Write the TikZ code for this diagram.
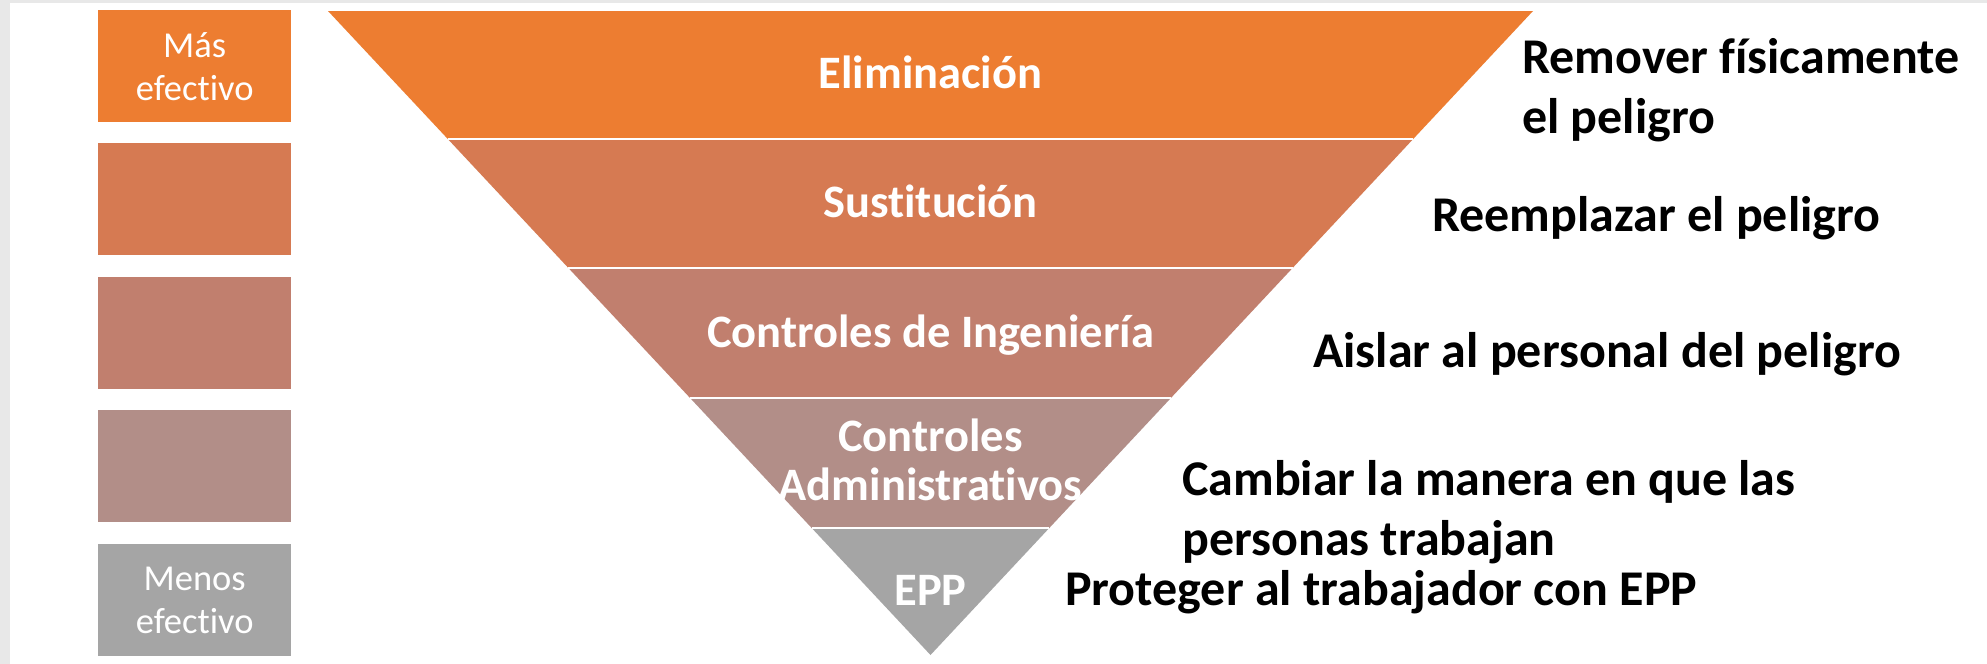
\documentclass[tikz,border=0pt]{standalone}
\usepackage{fontspec}
\setmainfont{Carlito}[Ligatures=NoCommon]
\definecolor{cA}{RGB}{237,125,49}
\definecolor{cB}{RGB}{214,122,82}
\definecolor{cC}{RGB}{193,127,110}
\definecolor{cD}{RGB}{178,142,136}
\definecolor{cE}{RGB}{165,165,165}
\definecolor{edge}{RGB}{232,232,232}
\begin{document}
\begin{tikzpicture}[x=1pt,y=-1pt,
  lbox/.style={anchor=north west, minimum width=193pt, minimum height=112pt, inner sep=0pt,
    text=white, align=center, font=\fontsize{36.5}{43}\selectfont},
  blabel/.style={anchor=base, inner sep=0pt, text=white, align=center,
    font=\fontsize{46.5}{49}\selectfont\bfseries},
  rlabel/.style={anchor=base west, inner sep=0pt, text=black, align=left,
    font=\fontsize{50}{59.5}\selectfont\bfseries},
  divider/.style={draw=white, line width=2.5pt}]
\useasboundingbox (0,0) rectangle (1987,664);
\fill[white] (0,0) rectangle (1987,664);
\fill[edge] (0,0) rectangle (10,664);
\fill[edge] (0,0) rectangle (1987,3);
% left scale boxes
\node[lbox, fill=cA] (b1) at (98,10) {Más\\efectivo};
\node[lbox, fill=cB] (b2) at (98,143) {};
\node[lbox, fill=cC] (b3) at (98,277) {};
\node[lbox, fill=cD] (b4) at (98,410) {};
\node[lbox, fill=cE] (b5) at (98,544) {Menos\\efectivo};
% inverted pyramid
\fill[cA] (328,11) -- (1533,11) -- (1413.2,139) -- (447.8,139) -- cycle;
\fill[cB] (447.8,139) -- (1413.2,139) -- (1292.6,268) -- (568.4,268) -- cycle;
\fill[cC] (568.4,268) -- (1292.6,268) -- (1170.9,398) -- (690.1,398) -- cycle;
\fill[cD] (690.1,398) -- (1170.9,398) -- (1049.3,528) -- (811.7,528) -- cycle;
\fill[cE] (811.7,528) -- (1049.3,528) -- (930.5,655) -- cycle;
\draw[divider] (447.8,139) -- (1413.2,139);
\draw[divider] (568.4,268) -- (1292.6,268);
\draw[divider] (690.1,398) -- (1170.9,398);
\draw[divider] (811.7,528) -- (1049.3,528);
% band labels
\node[blabel] (l1) at (930.5,88) {Eliminación};
\node[blabel] (l2) at (930.5,217) {Sustitución};
\node[blabel] (l3) at (930.5,347) {Controles de Ingeniería};
\node[blabel] (l4) at (930.5,500) {Controles\\Administrativos};
\node[blabel] (l5) at (930.5,605) {EPP};
% descriptions
\node[rlabel] (r1) at (1522,133) {Remover físicamente\\el peligro};
\node[rlabel] (r2) at (1432,231) {Reemplazar el peligro};
\node[rlabel] (r3) at (1313,367) {Aislar al personal del peligro};
\node[rlabel] (r4) at (1182,555) {Cambiar la manera en que las\\personas trabajan};
\node[rlabel] (r5) at (1065,605) {Proteger al trabajador con EPP};
\end{tikzpicture}
\end{document}
